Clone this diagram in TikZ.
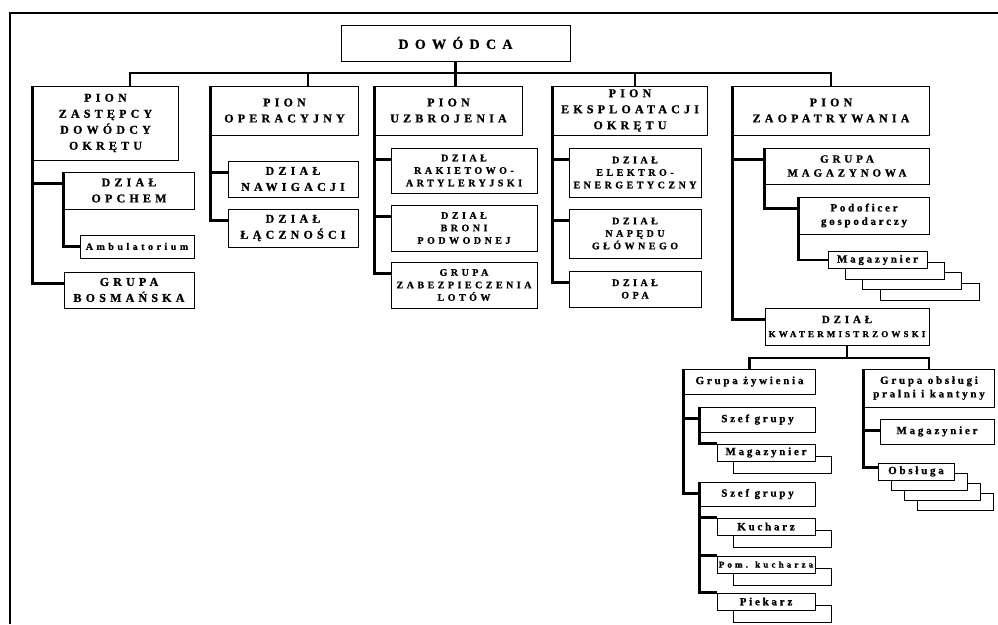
\documentclass[tikz,border=0pt]{standalone}
\usepackage{fontspec}
\setmainfont{Liberation Serif}
\newfontfamily\widefont[LetterSpace=35, FakeBold=1]{Liberation Serif Bold}
\newfontfamily\widerfont[LetterSpace=45, FakeBold=1]{Liberation Serif Bold}
\newfontfamily\tightfont[LetterSpace=25, FakeBold=1]{Liberation Serif Bold}
\newcommand\wsp{\hspace{0.5em}}
\usetikzlibrary{positioning}
\usetikzlibrary{calc}
\usetikzlibrary{shadows}

\tikzset{
  box/.style={draw, fill=white, line width=0.9pt, inner xsep=0pt, inner ysep=0pt, align=center},
  wh/.style 2 args={text width=#1, minimum height=#2},
  conn/.style={line width=2.6pt},
  frame/.style={line width=2pt},
  sheet/.style 2 args={general shadow={fill=white, draw=black, line width=0.9pt, shadow xshift=#1, shadow yshift=#2}},
  tcmd/.style={font=\widerfont\fontsize{14}{17}\selectfont},
  tpion/.style={font=\widefont\fontsize{12}{16}\selectfont},
  tgrp/.style={font=\widefont\fontsize{11}{14}\selectfont},
  tdz/.style={font=\widefont\fontsize{10}{12.5}\selectfont},
  tlow/.style={font=\tightfont\fontsize{11}{13.5}\selectfont},
  tsml/.style={font=\widefont\fontsize{9}{11}\selectfont}
}

\begin{document}
\begin{tikzpicture}[x=1pt, y=-1pt]
\useasboundingbox (0,0) rectangle (998,624);

\coordinate (fbl) at (10,624);
\coordinate (ftl) at (10,13);
\coordinate (ftr) at (998,13);
\draw[frame] (fbl) -- (ftl) -- (ftr);

\node[box, tcmd, wh={229pt}{36pt}] (dow) at (455.5,43) {DOWÓDCA};

\node[box, tpion, wh={145pt}{74pt}] (pzd) at (105.5,123) {PION\\ZASTĘPCY\\DOWÓDCY\\OKRĘTU};
\node[box, tpion, wh={130pt}{37pt}] (opc) at (129,190.5) {DZIAŁ\\OPCHEM};
\node[box, tdz, wh={114pt}{23pt}] (amb) at (137,246.5) {Ambulatorium};
\node[box, tpion, wh={130pt}{36pt}] (gbo) at (129,290) {GRUPA\\BOSMAŃSKA};

\node[box, tpion, wh={147pt}{49pt}] (pop) at (284.5,110.5) {PION\\OPERACYJNY};
\node[box, tpion, wh={130pt}{36pt}] (naw) at (293,179) {DZIAŁ\\NAWIGACJI};
\node[box, tpion, wh={130pt}{38pt}] (lac) at (293,228) {DZIAŁ\\ŁĄCZNOŚCI};

\node[box, tpion, wh={147pt}{49pt}] (puz) at (448.5,110.5) {PION\\UZBROJENIA};
\node[box, tdz, wh={146pt}{45pt}] (rak) at (464,170.5) {DZIAŁ\\RAKIETOWO-\\ARTYLERYJSKI};
\node[box, tdz, wh={146pt}{46pt}] (bro) at (464,228) {DZIAŁ\\BRONI\\PODWODNEJ};
\node[box, tdz, wh={146pt}{46pt}] (zab) at (464,285) {GRUPA\\ZABEZPIECZENIA\\LOTÓW};

\node[box, tpion, wh={154pt}{49pt}] (pek) at (630,110.5) {PION\\EKSPLOATACJI\\OKRĘTU};
\node[box, tdz, wh={132pt}{49pt}] (ele) at (635,172.5) {DZIAŁ\\ELEKTRO-\\ENERGETYCZNY};
\node[box, tdz, wh={132pt}{49pt}] (nap) at (635,233.5) {DZIAŁ\\NAPĘDU\\GŁÓWNEGO};
\node[box, tdz, wh={132pt}{36pt}] (opa) at (635,289) {DZIAŁ\\OPA};

\node[box, tpion, wh={196pt}{49pt}] (pza) at (831,110.5) {PION\\ZAOPATRYWANIA};
\node[box, tgrp, wh={164pt}{36pt}] (gma) at (847,166) {GRUPA\\MAGAZYNOWA};
\node[box, tlow, wh={130pt}{37pt}] (pod) at (864,215.5) {Podoficer\\gospodarczy};
\node[box, tlow, wh={99pt}{17pt}, sheet={52pt}{-31.5pt}, sheet={34.6pt}{-21pt}, sheet={17.3pt}{-10.5pt}] (mag) at (877.5,260) {Magazynier};
\node[box, tgrp, wh={164pt}{37pt}] (kwa) at (847,326.5) {DZIAŁ\\{\fontsize{9}{12}\selectfont KWATERMISTRZOWSKI}};

\node[box, tlow, wh={131pt}{25pt}] (gzy) at (749.5,381.5) {Grupa\wsp żywienia};
\node[box, tlow, wh={115pt}{25pt}] (sz1) at (757.5,419.5) {Szef\wsp grupy};
\node[box, tlow, wh={98pt}{17pt}, sheet={16pt}{-12.5pt}] (mg1) at (766,452.5) {Magazynier};
\node[box, tlow, wh={115pt}{24pt}] (sz2) at (757.5,494) {Szef\wsp grupy};
\node[box, tlow, wh={98pt}{17pt}, sheet={16pt}{-12.5pt}] (kuc) at (766,526.5) {Kucharz};
\node[box, tsml, wh={98pt}{17pt}, sheet={16pt}{-12.5pt}] (pom) at (766,564.5) {Pom.\hspace{0.8em}kucharza};
\node[box, tlow, wh={98pt}{17pt}, sheet={16pt}{-12.5pt}] (pie) at (766,601.5) {Piekarz};

\node[box, tlow, wh={130pt}{38pt}] (gob) at (929,388) {Grupa\wsp obsługi\\pralni\wsp i\wsp kantyny};
\node[box, tlow, wh={114pt}{25pt}] (gmg) at (937,431.5) {Magazynier};
\node[box, tlow, wh={76pt}{17pt}, sheet={39pt}{-30pt}, sheet={26pt}{-20pt}, sheet={13pt}{-10pt}] (obs) at (916,471.5) {Obsługa};

\coordinate (b1) at (130,73);
\coordinate (b2) at (308,73);
\coordinate (b4) at (635,73);
\coordinate (b5) at (831,73);
\coordinate (kbus) at (847,358);

\draw[conn] (b1 |- pzd.north) -- (b1) -- (b5) -- (b5 |- pza.north);
\draw[conn] (dow.south) -- (dow.south |- puz.north);
\draw[conn] (b2) -- (b2 |- pop.north);
\draw[conn] (b4) -- (b4 |- pek.north);

\draw[conn] (pzd.north west) |- ([yshift=-12pt]gbo.north west);
\draw[conn] ([yshift=-12pt]pzd.north west |- opc.north) -- ([yshift=-12pt]opc.north west);
\draw[conn] (opc.north west) |- (amb.west);

\draw[conn] (pop.north west) |- ([yshift=-12pt]lac.north west);
\draw[conn] ([yshift=-12pt]pop.north west |- naw.north) -- ([yshift=-12pt]naw.north west);

\draw[conn] (puz.north west) |- ([yshift=-12pt]zab.north west);
\draw[conn] ([yshift=-12pt]puz.north west |- rak.north) -- ([yshift=-12pt]rak.north west);
\draw[conn] ([yshift=-12pt]puz.north west |- bro.north) -- ([yshift=-12pt]bro.north west);

\draw[conn] (pek.north west) |- ([yshift=-12pt]opa.north west);
\draw[conn] ([yshift=-12pt]pek.north west |- ele.north) -- ([yshift=-12pt]ele.north west);
\draw[conn] ([yshift=-12pt]pek.north west |- nap.north) -- ([yshift=-12pt]nap.north west);

\draw[conn] (pza.north west) |- ([yshift=-12pt]kwa.north west);
\draw[conn] ([yshift=-12pt]pza.north west |- gma.north) -- ([yshift=-12pt]gma.north west);
\draw[conn] (gma.north west) |- ([yshift=-12pt]pod.north west);
\draw[conn] (pod.north west) |- (mag.west);

\draw[conn] (kwa.south) -- (kwa.south |- kbus);
\draw[conn] (gzy.north) -- (gzy.north |- kbus) -- (gob.north |- kbus) -- (gob.north);

\draw[conn] (gzy.north west) |- ([yshift=-12pt]sz2.north west);
\draw[conn] ([yshift=-12pt]gzy.north west |- sz1.north) -- ([yshift=-12pt]sz1.north west);
\draw[conn] (sz1.north west) |- (mg1.north west);
\draw[conn] (sz2.north west) |- (pie.north west);
\draw[conn] (sz2.north west |- kuc.north) -- (kuc.north west);
\draw[conn] (sz2.north west |- pom.north) -- (pom.north west);

\draw[conn] (gob.north west) |- ([yshift=-5pt]obs.north west);
\draw[conn] ([yshift=-12pt]gob.north west |- gmg.north) -- ([yshift=-12pt]gmg.north west);
\end{tikzpicture}
\end{document}
